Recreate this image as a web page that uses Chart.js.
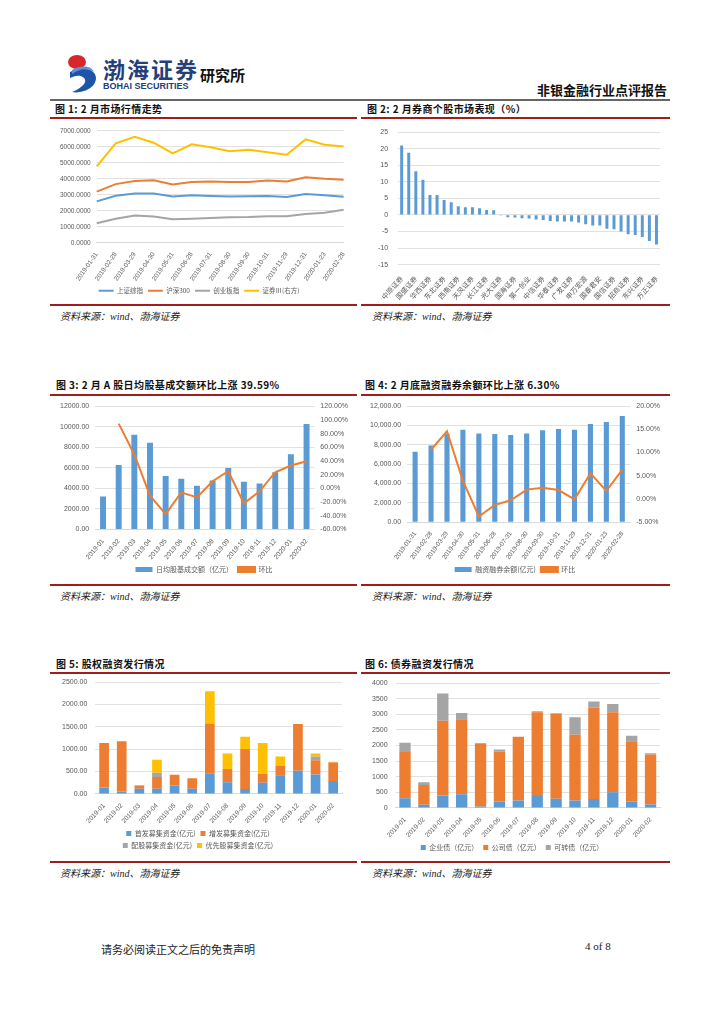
<!DOCTYPE html>
<html>
<head>
<meta charset="utf-8">
<script src="https://cdn.jsdelivr.net/npm/chart.js@4"></script>
<style>
  body { margin: 0; background: #fff; }
  #page { position: relative; width: 724px; height: 1024px; overflow: hidden; font-family: "Noto Sans CJK SC", sans-serif; }
  .abs { position: absolute; }
  .title { font-size: 10px; font-weight: bold; color: #111; white-space: nowrap; letter-spacing: 0.4px; }
  .src { font-size: 10px; font-style: italic; color: #222; white-space: nowrap; font-family: "Liberation Serif", "Noto Sans CJK SC", serif; }
  .red { position: absolute; height: 2px; background: #a11d1d; }
  .box { position: absolute; }
</style>
</head>
<body>
<div id="page">
  <!-- header -->
  <svg class="abs" style="left:66px;top:52px" width="34" height="42" viewBox="0 0 34 42">
    <ellipse cx="11" cy="10" rx="9" ry="7" fill="#d8262b"/>
    <path d="M4 20 C14 14 30 16 30 26 C30 36 16 42 6 40 C16 36 22 30 18 26 C14 22 8 24 4 26 Z" fill="#1c54a8"/>
    <path d="M6 18 C16 12 26 14 28 20 C22 16 14 16 6 22 Z" fill="#5b8fd6"/>
  </svg>
  <div class="abs" style="left:103px;top:52px;font-size:22px;font-weight:bold;color:#24407a;letter-spacing:2px">渤海证券</div>
  <div class="abs" style="left:103px;top:81px;font-size:9px;font-weight:bold;color:#24407a;font-family:'Liberation Sans'">BOHAI SECURITIES</div>
  <div class="abs" style="left:200px;top:64px;font-size:15px;font-weight:bold;color:#111">研究所</div>
  <div class="abs" style="left:537px;top:80px;font-size:13px;font-weight:bold;color:#111">非银金融行业点评报告</div>
  <div class="abs" style="left:50px;top:99px;width:620px;height:2px;background:#666"></div>

  <!-- section 1 -->
  <div class="abs title" style="left:55px;top:101px">图 1: 2 月市场行情走势</div>
  <div class="abs title" style="left:367px;top:101px">图 2: 2 月券商个股市场表现（%）</div>
  <div class="red" style="left:50px;top:117px;width:307px"></div>
  <div class="red" style="left:361px;top:117px;width:309px"></div>
  <div class="box" style="left:52px;top:121px;width:298px;height:183px"><canvas id="c1"></canvas></div>
  <div class="box" style="left:362px;top:118px;width:306px;height:185px"><canvas id="c2"></canvas></div>
  <div class="red" style="left:50px;top:304px;width:307px"></div>
  <div class="red" style="left:361px;top:304px;width:309px"></div>
  <div class="abs src" style="left:60px;top:308px">资料来源：wind、渤海证券</div>
  <div class="abs src" style="left:372px;top:308px">资料来源：wind、渤海证券</div>

  <!-- section 2 -->
  <div class="abs title" style="left:56px;top:377px">图 3: 2 月 A 股日均股基成交额环比上涨 39.59%</div>
  <div class="abs title" style="left:365px;top:377px">图 4: 2 月底融资融券余额环比上涨 6.30%</div>
  <div class="red" style="left:50px;top:394px;width:307px"></div>
  <div class="red" style="left:361px;top:394px;width:309px"></div>
  <div class="box" style="left:52px;top:396px;width:304px;height:187px"><canvas id="c3"></canvas></div>
  <div class="box" style="left:362px;top:396px;width:306px;height:187px"><canvas id="c4"></canvas></div>
  <div class="red" style="left:50px;top:584px;width:307px"></div>
  <div class="red" style="left:361px;top:584px;width:309px"></div>
  <div class="abs src" style="left:60px;top:588px">资料来源：wind、渤海证券</div>
  <div class="abs src" style="left:372px;top:588px">资料来源：wind、渤海证券</div>

  <!-- section 3 -->
  <div class="abs title" style="left:56px;top:656px">图 5: 股权融资发行情况</div>
  <div class="abs title" style="left:365px;top:656px">图 6: 债券融资发行情况</div>
  <div class="red" style="left:50px;top:672px;width:307px"></div>
  <div class="red" style="left:361px;top:672px;width:309px"></div>
  <div class="box" style="left:52px;top:670px;width:298px;height:189px"><canvas id="c5"></canvas></div>
  <div class="box" style="left:362px;top:671px;width:306px;height:190px"><canvas id="c6"></canvas></div>
  <div class="red" style="left:50px;top:861px;width:307px"></div>
  <div class="red" style="left:361px;top:861px;width:309px"></div>
  <div class="abs src" style="left:60px;top:865px">资料来源：wind、渤海证券</div>
  <div class="abs src" style="left:372px;top:865px">资料来源：wind、渤海证券</div>

  <!-- footer -->
  <div class="abs" style="left:101px;top:941px;font-size:11px;color:#222">请务必阅读正文之后的免责声明</div>
  <div class="abs" style="left:585px;top:940px;font-size:11px;color:#222;font-family:'Liberation Serif'">4 of 8</div>
</div>

<script>
// ---- figure 1: market indices
const dates1 = ['2019-01-31','2019-02-28','2019-03-29','2019-04-30','2019-05-31','2019-06-28','2019-07-31','2019-08-30','2019-09-30','2019-10-31','2019-11-29','2019-12-31','2020-01-23','2020-02-28'];
const szIndex   = [2590, 2940, 3090, 3080, 2900, 2980, 2930, 2890, 2905, 2930, 2870, 3050, 2980, 2880];
const hs300     = [3200, 3670, 3860, 3910, 3650, 3800, 3830, 3800, 3810, 3890, 3830, 4100, 4000, 3950];
const cybIndex  = [1220, 1510, 1710, 1640, 1470, 1500, 1550, 1600, 1610, 1660, 1660, 1800, 1880, 2060];
const secIndex  = [4780, 6220, 6630, 6260, 5590, 6160, 5980, 5730, 5820, 5670, 5510, 6470, 6140, 6020];

// ---- figure 2: broker stocks, Feb change (%)
const brokers = ['中原证券','南京证券','国盛证券','红塔证券','华西证券','华林证券','东北证券','山西证券','西南证券','财通证券',
  '天风证券','国元证券','长江证券','太平洋','光大证券','国金证券','国海证券','东方证券','第一创业','兴业证券',
  '中信证券','浙商证券','华泰证券','华安证券','广发证券','长城证券','申万宏源','海通证券','国泰君安','中国银河',
  '国信证券','东吴证券','招商证券','西部证券','东兴证券','中信建投','方正证券'];
const brokerChg = [21.0, 18.8, 13.2, 10.6, 6.0, 6.0, 4.5, 3.8, 2.6, 2.3, 2.3, 2.0, 1.5, 1.4,
  -0.2, -0.7, -0.8, -1.0, -1.1, -1.4, -1.5, -1.8, -2.0, -2.0, -2.0, -2.3, -2.8, -3.2, -3.2,
  -4.2, -4.3, -5.0, -5.8, -6.1, -6.7, -7.9, -8.9];

// ---- figure 3: daily turnover
const months = ['2019-01','2019-02','2019-03','2019-04','2019-05','2019-06','2019-07','2019-08','2019-09','2019-10','2019-11','2019-12','2020-01','2020-02'];
const turnover    = [3200, 6280, 9220, 8430, 5200, 4940, 4250, 4750, 5980, 4640, 4480, 5560, 7320, 10260];
const turnoverMoM = [null, 94.6, 49.5, -10.8, -37.7, -5.9, -13.2, 10.3, 25.0, -22.0, -4.5, 23.5, 33.3, 39.59];

// ---- figure 4: margin balance
const dates4 = ['2019-01-31','2019-02-28','2019-03-29','2019-04-30','2019-05-31','2019-06-28','2019-07-31','2019-08-30','2019-09-30','2019-10-31','2019-11-29','2019-12-31','2020-01-23','2020-02-28'];
const marginBal = [7270, 7930, 9150, 9565, 9180, 9110, 9010, 9180, 9500, 9635, 9565, 10160, 10365, 10990];
const marginMoM = [null, 10.6, 14.6, 3.9, -3.8, -1.3, -0.3, 2.0, 2.4, 1.9, -0.1, 5.5, 1.7, 6.3];

// ---- figure 5: equity financing (100m yuan)
const ipoAmt    = [145, 54, 115, 115, 186, 116, 450, 262, 108, 248, 418, 519, 433, 286];
const seoAmt    = [993, 1122, 71, 264, 240, 232, 1113, 295, 898, 201, 209, 1044, 318, 418];
const rightsAmt = [0, 0, 6, 93, 0, 0, 20, 0, 0, 0, 0, 0, 85, 0];
const prefAmt   = [0, 0, 0, 294, 0, 0, 716, 349, 271, 689, 209, 0, 70, 16];

// ---- figure 6: bond financing (100m yuan)
const entBond  = [307, 99, 395, 439, 44, 208, 241, 384, 296, 241, 285, 504, 208, 110];
const corpBond = [1490, 635, 2401, 2401, 2017, 1601, 2040, 2686, 2719, 2105, 2939, 2566, 1930, 1601];
const cvBond   = [296, 88, 877, 208, 22, 66, 0, 33, 22, 559, 186, 263, 176, 43];

const BLUE = '#5B9BD5', ORANGE = '#ED7D31', GRAY = '#A5A5A5', YELLOW = '#FFC000';
const CJK = '"Noto Sans CJK SC", sans-serif';
Chart.defaults.font.family = '"Liberation Sans", "Noto Sans CJK SC", sans-serif';
Chart.defaults.font.size = 7;
Chart.defaults.color = '#595959';
Chart.defaults.animation = false;
Chart.defaults.maintainAspectRatio = false;
Chart.defaults.plugins.tooltip.enabled = false;

const grid = { color: '#d9d9d9', lineWidth: 0.8, drawTicks: false };
const xAxis = (rot, size, extra) => Object.assign({
  grid: { display: false },
  border: { color: '#d9d9d9' },
  ticks: { minRotation: rot, maxRotation: rot, autoSkip: false, padding: 0, font: { size: size } }
}, extra || {});

// legend rows wrap at a narrower width than the chart (two items per row)
const narrowLegend = (w) => ({
  id: 'narrowLegend',
  beforeLayout(chart) {
    const lg = chart.legend;
    if (lg && !lg._narrow) {
      const up = lg.update.bind(lg);
      lg.update = (mw, mh, m) => up(Math.min(mw, w), mh, m);
      lg._narrow = true;
    }
  }
});

new Chart(document.getElementById('c1'), {
  type: 'line',
  data: {
    labels: dates1,
    datasets: [
      { label: '上证综指', data: szIndex, borderColor: BLUE },
      { label: '沪深300', data: hs300, borderColor: ORANGE },
      { label: '创业板指', data: cybIndex, borderColor: GRAY },
      { label: '证券Ⅲ(右方)', data: secIndex, borderColor: YELLOW }
    ].map(d => Object.assign(d, { borderWidth: 2, pointRadius: 0, pointStyle: 'line', tension: 0, backgroundColor: d.borderColor }))
  },
  options: {
    layout: { padding: { left: 2, right: 6, top: 4 } },
    scales: {
      x: xAxis(55, 6.5),
      y: { min: 0, max: 7000, grid: grid, border: { display: false },
           ticks: { stepSize: 1000, padding: 6, font: { size: 6.5 }, callback: v => v.toFixed(4) } }
    },
    plugins: {
      legend: { position: 'bottom',
        labels: { usePointStyle: true, pointStyleWidth: 15, padding: 5, font: { family: CJK, size: 6.5 } } }
    }
  }
});

new Chart(document.getElementById('c2'), {
  type: 'bar',
  data: { labels: brokers, datasets: [{ data: brokerChg, backgroundColor: BLUE, barPercentage: 0.42, categoryPercentage: 1 }] },
  options: {
    layout: { padding: { left: 6, right: 8, top: 4 } },
    scales: {
      x: xAxis(48, 7, { border: { display: false },
        ticks: { minRotation: 48, maxRotation: 48, autoSkip: false, padding: 2,
                 font: { family: CJK, size: 7 },
                 callback: function (v, i) { return i % 2 === 0 ? this.getLabelForValue(v) : ''; } } }),
      y: { min: -15, max: 25, grid: grid, border: { display: false },
           ticks: { stepSize: 5, padding: 10 } }
    },
    plugins: { legend: { display: false } }
  }
});

function comboChart(id, labels, bars, barLabel, line, yFmt, y1Min, y1Max, y1Step, rot, xSize, barPct) {
  new Chart(document.getElementById(id), {
    data: {
      labels: labels,
      datasets: [
        { type: 'line', label: '环比', data: line, yAxisID: 'y1', borderColor: ORANGE, backgroundColor: ORANGE,
          borderWidth: 2, pointRadius: 0, tension: 0, order: 0 },
        { type: 'bar', label: barLabel, data: bars, backgroundColor: BLUE, barPercentage: barPct, categoryPercentage: 1, order: 1 }
      ]
    },
    options: {
      layout: { padding: { left: 2, right: 2, top: 4 } },
      scales: {
        x: xAxis(rot, xSize),
        y: { min: 0, max: 12000, grid: grid, border: { display: false },
             ticks: { stepSize: 2000, padding: 6, callback: yFmt } },
        y1: { position: 'right', min: y1Min, max: y1Max, grid: { display: false, drawTicks: false }, border: { display: false },
              ticks: { stepSize: y1Step, padding: 6, callback: v => v.toFixed(2) + '%' } }
      },
      plugins: {
        legend: { position: 'bottom', reverse: true,
          labels: { boxWidth: 17, boxHeight: 5, padding: 5, font: { family: CJK, size: 7 } } }
      }
    }
  });
}
comboChart('c3', months, turnover, '日均股基成交额（亿元）', turnoverMoM, v => v.toFixed(2), -60, 120, 20, 50, 6.6, 0.38);
comboChart('c4', dates4, marginBal, '融资融券余额(亿元)', marginMoM,
  v => v.toLocaleString('en-US', { minimumFractionDigits: 2, maximumFractionDigits: 2 }), -5, 20, 5, 54, 6.4, 0.32);

function stackChart(id, sets, yMax, step, fmt, barPct, plugins) {
  new Chart(document.getElementById(id), {
    type: 'bar',
    data: {
      labels: months,
      datasets: sets.map(s => ({ label: s[0], data: s[1], backgroundColor: s[2], barPercentage: barPct, categoryPercentage: 1 }))
    },
    plugins: plugins,
    options: {
      layout: { padding: { left: 2, right: 8, top: 4 } },
      scales: {
        x: xAxis(47, 6.6, { stacked: true }),
        y: { stacked: true, min: 0, max: yMax, grid: grid, border: { display: false },
             ticks: { stepSize: step, padding: 8, callback: fmt } }
      },
      plugins: {
        legend: { position: 'bottom',
          labels: { boxWidth: 5, boxHeight: 5, padding: 5, font: { family: CJK, size: 7 } } }
      }
    }
  });
}
stackChart('c5', [
  ['首发募集资金(亿元)', ipoAmt, BLUE],
  ['增发募集资金(亿元)', seoAmt, ORANGE],
  ['配股募集资金(亿元)', rightsAmt, GRAY],
  ['优先股募集资金(亿元)', prefAmt, YELLOW]
], 2500, 500, v => v.toFixed(2), 0.55, [narrowLegend(215)]);
stackChart('c6', [
  ['企业债（亿元）', entBond, BLUE],
  ['公司债（亿元）', corpBond, ORANGE],
  ['可转债（亿元）', cvBond, GRAY]
], 4000, 500, v => v, 0.6, []);
</script>
</body>
</html>
